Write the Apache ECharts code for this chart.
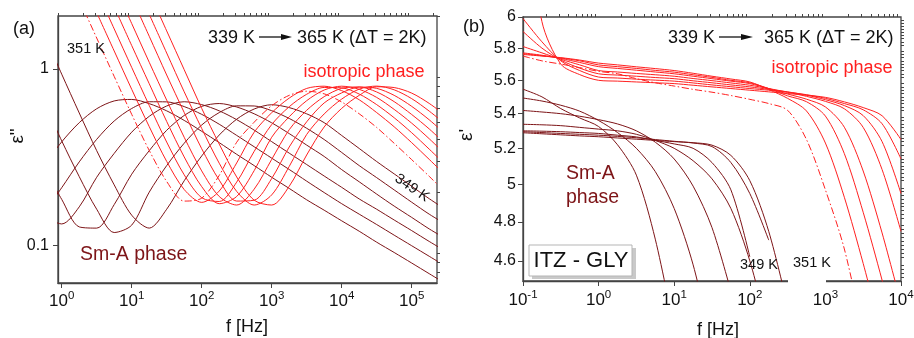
<!DOCTYPE html>
<html>
<head>
<meta charset="utf-8">
<script src="https://cdn.jsdelivr.net/npm/echarts@6/dist/echarts.min.js"></script>
<style>
  html, body { margin: 0; padding: 0; background: #fff; }
  #chart { width: 914px; height: 338px; }
</style>
</head>
<body>
<div id="chart"></div>
<script>
// ---------- panel (a): dielectric loss ε'' vs frequency ----------
const freqA = [0.562, 1, 1.78, 3.16, 5.62, 10, 17.8, 31.6, 56.2, 100, 178, 316, 562, 1000,
  1780, 3160, 5620, 10000, 17800, 31600, 56200, 100000, 178000, 316000];

// Sm-A phase, 339 K ... 349 K
const lossSmA339 = [0.285, 0.386, 0.496, 0.595, 0.659, 0.672, 0.636, 0.579, 0.511, 0.443, 0.382, 0.328, 0.283, 0.243, 0.210, 0.181, 0.158, 0.1375, 0.120, 0.104, 0.0909, 0.0792, 0.0689, 0.060];
const lossSmA341 = [0.154, 0.212, 0.297, 0.399, 0.507, 0.597, 0.652, 0.651, 0.612, 0.553, 0.486, 0.420, 0.362, 0.312, 0.269, 0.231, 0.199, 0.172, 0.150, 0.131, 0.114, 0.0993, 0.0865, 0.0753];
const lossSmA343 = [0.145, 0.132, 0.165, 0.243, 0.332, 0.438, 0.539, 0.617, 0.652, 0.628, 0.579, 0.516, 0.450, 0.387, 0.333, 0.287, 0.247, 0.213, 0.183, 0.160, 0.139, 0.121, 0.105, 0.0917];
const lossSmA345 = [0.275, 0.182, 0.127, 0.125, 0.170, 0.253, 0.344, 0.449, 0.545, 0.614, 0.637, 0.609, 0.557, 0.495, 0.430, 0.370, 0.319, 0.2685, 0.229, 0.195, 0.1667, 0.1438, 0.1237, 0.108];
const lossSmA347 = [0.644, 0.391, 0.245, 0.160, 0.118, 0.130, 0.200, 0.283, 0.379, 0.481, 0.566, 0.618, 0.617, 0.580, 0.524, 0.461, 0.398, 0.336, 0.283, 0.2418, 0.206, 0.1754, 0.150, 0.1306];
const lossSmA349 = [1.57, 0.935, 0.563, 0.344, 0.220, 0.148, 0.125, 0.160, 0.232, 0.321, 0.422, 0.519, 0.593, 0.627, 0.604, 0.557, 0.496, 0.4195, 0.354, 0.2985, 0.254, 0.216, 0.1836, 0.158];

// isotropic phase, 351 K (dash-dot) ... 365 K
const lossIso351 = [null, null, 2.48, 1.50, 0.908, 0.553, 0.345, 0.230, 0.178, 0.185, 0.249, 0.384, 0.499, 0.619, 0.709, 0.748, 0.723, 0.650, 0.557, 0.466, 0.379, 0.306, 0.246, 0.196];
const lossIso353 = [null, null, null, 2.09, 1.266, 0.767, 0.471, 0.299, 0.207, 0.175, 0.203, 0.293, 0.438, 0.565, 0.684, 0.776, 0.799, 0.754, 0.669, 0.566, 0.470, 0.382, 0.307, 0.246];
const lossIso355 = [null, null, null, 2.8, 1.69, 1.021, 0.621, 0.385, 0.251, 0.186, 0.177, 0.228, 0.341, 0.484, 0.611, 0.719, 0.786, 0.782, 0.721, 0.628, 0.529, 0.435, 0.351, 0.282];
const lossIso357 = [null, null, null, null, 2.255, 1.359, 0.825, 0.504, 0.317, 0.215, 0.172, 0.189, 0.265, 0.410, 0.536, 0.661, 0.760, 0.799, 0.767, 0.690, 0.590, 0.493, 0.402, 0.323];
const lossIso359 = [null, null, null, null, 3.0, 1.812, 1.092, 0.666, 0.410, 0.264, 0.189, 0.169, 0.208, 0.307, 0.4525, 0.583, 0.697, 0.777, 0.791, 0.741, 0.653, 0.552, 0.457, 0.370];
const lossIso361 = [null, null, null, null, null, 2.546, 1.534, 0.925, 0.567, 0.353, 0.234, 0.178, 0.180, 0.239, 0.361, 0.5015, 0.642, 0.732, 0.790, 0.777, 0.709, 0.614, 0.515, 0.4217];
const lossIso363 = [null, null, null, null, null, null, 2.045, 1.233, 0.743, 0.460, 0.292, 0.202, 0.169, 0.193, 0.280, 0.425, 0.556, 0.675, 0.769, 0.800, 0.762, 0.679, 0.577, 0.480];
const lossIso365 = [null, null, null, null, null, null, 2.73, 1.646, 0.992, 0.598, 0.375, 0.244, 0.180, 0.169, 0.216, 0.325, 0.469, 0.598, 0.709, 0.793, 0.785, 0.730, 0.638, 0.539];

// ---------- panel (b): permittivity ε' vs frequency ----------
const freqB = [0.1, 0.178, 0.316, 0.562, 1, 1.78, 3.16, 5.62, 10, 17.8, 31.6, 56.2, 100, 178,
  316, 562, 1000, 1780, 3160, 5620, 10000];

const permSmA1 = [5.546, 5.50, 5.43, 5.375, 5.325, 5.22, 5.05, 4.71, 4.27];
const permSmA2 = [5.493, 5.475, 5.45, 5.415, 5.36, 5.29, 5.20, 5.07, 4.87, 4.58, 4.2];
const permSmA3 = [5.419, 5.41, 5.40, 5.385, 5.365, 5.34, 5.30, 5.235, 5.14, 4.99, 4.77, 4.45];
const permSmA4 = [5.338, 5.335, 5.33, 5.32, 5.31, 5.30, 5.28, 5.245, 5.2, 5.13, 5.03, 4.87, 4.6, 4.25];
const permSmA5 = [5.30, 5.298, 5.295, 5.29, 5.285, 5.275, 5.265, 5.245, 5.225, 5.20, 5.12, 4.97, 4.62];
const permSmA6 = [5.295, 5.29, 5.285, 5.28, 5.275, 5.268, 5.26, 5.25, 5.24, 5.23, 5.21, 5.12, 4.95, 4.705];
const permSmA7 = [5.289, 5.283, 5.277, 5.271, 5.266, 5.259, 5.252, 5.245, 5.238, 5.232, 5.218, 5.16, 5.02, 4.75, 4.38];

const permIsoDash = [5.75, 5.72, 5.70, 5.678, 5.655, 5.64, 5.61, 5.585, 5.565, 5.545, 5.528, 5.508, 5.485, 5.46, 5.42, 5.25, 4.97, 4.66, 4.25];
const permIso1 = [5.76, 5.75, 5.74, 5.725, 5.706, 5.695, 5.683, 5.672, 5.66, 5.643, 5.625, 5.608, 5.59, 5.544, 5.491, 5.416, 5.23, 4.93, 4.587, 4.24];
const permIso2 = [5.765, 5.752, 5.738, 5.72, 5.695, 5.684, 5.673, 5.661, 5.65, 5.634, 5.618, 5.6, 5.585, 5.55, 5.506, 5.471, 5.386, 5.17, 4.85, 4.504, 4.16];
const permIso3 = [5.77, 5.755, 5.735, 5.71, 5.684, 5.673, 5.662, 5.651, 5.64, 5.625, 5.61, 5.595, 5.58, 5.55, 5.517, 5.486, 5.44, 5.321, 5.073, 4.742, 4.39];
const permIso4 = [5.81, 5.77, 5.73, 5.695, 5.66, 5.651, 5.642, 5.634, 5.625, 5.611, 5.598, 5.584, 5.57, 5.55, 5.528, 5.503, 5.473, 5.429, 5.32, 5.081, 4.75];
const permIso5 = [5.906, 5.80, 5.725, 5.675, 5.64, 5.632, 5.625, 5.617, 5.61, 5.597, 5.585, 5.572, 5.56, 5.545, 5.53, 5.51, 5.483, 5.448, 5.389, 5.238, 4.95];
const permIso6 = [5.99, 5.84, 5.72, 5.66, 5.62, 5.614, 5.607, 5.601, 5.595, 5.584, 5.572, 5.561, 5.55, 5.54, 5.528, 5.513, 5.491, 5.46, 5.423, 5.341, 5.14];
const permIso7 = [6.9, 5.97, 5.70, 5.635, 5.60, 5.595, 5.59, 5.585, 5.58, 5.57, 5.56, 5.55, 5.54, 5.53, 5.52, 5.51, 5.497, 5.47, 5.436, 5.388, 5.25];

// ---------- tick labels ----------
const ticksFreqA = [1, 10, 100, 1000, 10000, 100000];
const ticksLossA = [0.1, 1];
const ticksFreqB = [0.1, 1, 10, 100, 1000, 10000];
const ticksPermB = [4.6, 4.8, 5, 5.2, 5.4, 5.6, 5.8, 6];

// ---------- styling ----------
const FONT = '"Liberation Sans", Arial, sans-serif';
const DARK = '#7d1417';
const RED = '#ff2020';
const INK = '#111';
const AXIS = '#444';
const DASHDOT = [7, 2.5, 1.5, 2.5];

function decadeMinors(fromExp, toExp) {
  const out = [];
  for (let e = fromExp; e <= toExp; e++) {
    for (let m = 2; m <= 9; m++) out.push(+(m * Math.pow(10, e)).toPrecision(3));
  }
  return out;
}
function stepMinors(a, b, step, skip) {
  const out = [];
  for (let v = a; v <= b + 1e-9; v += step) {
    const r = +v.toFixed(3);
    if (!skip.some(s => Math.abs(s - r) < 1e-6)) out.push(r);
  }
  return out;
}

function curve(name, xs, ys, color, xi, yi, dashed) {
  return {
    name, type: 'line', xAxisIndex: xi, yAxisIndex: yi,
    data: xs.map((x, i) => [x, ys[i]]).filter(p => p[1] != null),
    showSymbol: false, symbol: 'none', smooth: 0.3,
    lineStyle: { color, width: 1, type: dashed ? DASHDOT : 'solid' },
    silent: true, animation: false, z: color === RED ? 3 : 2
  };
}

const expLabel = (ticks, margin) => ({
  customValues: ticks, margin,
  formatter: v => '{b|10}{s|' + Math.round(Math.log10(v)) + '}',
  rich: {
    b: { fontFamily: FONT, fontSize: 17, color: INK, lineHeight: 22 },
    s: { fontFamily: FONT, fontSize: 11.5, color: INK, lineHeight: 12, verticalAlign: 'top' }
  }
});
const plainLabel = (ticks, margin) => ({
  customValues: ticks, margin, fontFamily: FONT, fontSize: 16, color: INK,
  formatter: v => String(+(+v).toPrecision(3))
});

function axisPair(grid, min, max, major, minor, label) {
  const base = { gridIndex: grid, type: 'log', min, max, splitLine: { show: false } };
  return [
    Object.assign({}, base, {
      axisLine: { show: true, lineStyle: { color: AXIS, width: 1.3 } },
      axisTick: { show: true, customValues: major, length: 5, lineStyle: { color: AXIS, width: 1 } },
      axisLabel: label
    }),
    Object.assign({}, base, {
      axisLine: { show: false },
      axisTick: { show: true, customValues: minor, length: 3, lineStyle: { color: AXIS, width: 1 } },
      axisLabel: { show: false }
    })
  ];
}

const xAxes = [
  ...axisPair(0, 0.885, 230000, ticksFreqA, decadeMinors(-1, 5), expLabel(ticksFreqA, 7)),
  ...axisPair(1, 0.1, 10000, ticksFreqB, decadeMinors(-1, 3), expLabel(ticksFreqB, 8))
];
const yAxes = [
  ...axisPair(0, 0.061, 2, ticksLossA, [0.07, 0.08, 0.09, 0.2, 0.3, 0.4, 0.5, 0.6, 0.7, 0.8, 0.9, 2], plainLabel(ticksLossA, 9)),
  ...axisPair(1, 4.5, 6, ticksPermB, stepMinors(4.52, 5.98, 0.02, ticksPermB), plainLabel(ticksPermB, 7))
];

const series = [
  curve('339 K', freqA, lossSmA339, DARK, 0, 0),
  curve('341 K', freqA, lossSmA341, DARK, 0, 0),
  curve('343 K', freqA, lossSmA343, DARK, 0, 0),
  curve('345 K', freqA, lossSmA345, DARK, 0, 0),
  curve('347 K', freqA, lossSmA347, DARK, 0, 0),
  curve('349 K', freqA, lossSmA349, DARK, 0, 0),
  curve('351 K', freqA, lossIso351, RED, 0, 0, true),
  curve('353 K', freqA, lossIso353, RED, 0, 0),
  curve('355 K', freqA, lossIso355, RED, 0, 0),
  curve('357 K', freqA, lossIso357, RED, 0, 0),
  curve('359 K', freqA, lossIso359, RED, 0, 0),
  curve('361 K', freqA, lossIso361, RED, 0, 0),
  curve('363 K', freqA, lossIso363, RED, 0, 0),
  curve('365 K', freqA, lossIso365, RED, 0, 0),

  curve('b-SmA1', freqB, permSmA1, DARK, 2, 2),
  curve('b-SmA2', freqB, permSmA2, DARK, 2, 2),
  curve('b-SmA3', freqB, permSmA3, DARK, 2, 2),
  curve('b-SmA4', freqB, permSmA4, DARK, 2, 2),
  curve('b-SmA5', freqB, permSmA5, DARK, 2, 2),
  curve('b-SmA6', freqB, permSmA6, DARK, 2, 2),
  curve('b-SmA7', freqB, permSmA7, DARK, 2, 2),
  curve('b-IsoDash', freqB, permIsoDash, RED, 2, 2, true),
  curve('b-Iso1', freqB, permIso1, RED, 2, 2),
  curve('b-Iso2', freqB, permIso2, RED, 2, 2),
  curve('b-Iso3', freqB, permIso3, RED, 2, 2),
  curve('b-Iso4', freqB, permIso4, RED, 2, 2),
  curve('b-Iso5', freqB, permIso5, RED, 2, 2),
  curve('b-Iso6', freqB, permIso6, RED, 2, 2),
  curve('b-Iso7', freqB, permIso7, RED, 2, 2)
];

// ---------- annotations ----------
function txt(text, x, y, size, color, align, extra) {
  return Object.assign({
    type: 'text', x, y, z: 100,
    style: { text, font: size + 'px ' + FONT, fill: color, align: align || 'left', verticalAlign: 'middle' }
  }, extra || {});
}
function arrow(x1, y, len, head) {
  return [
    { type: 'line', z: 100, shape: { x1, y1: y, x2: x1 + len, y2: y }, style: { stroke: INK, lineWidth: 1.3 } },
    { type: 'polygon', z: 100, shape: { points: [[x1 + len - 1, y - 3], [x1 + len + head, y], [x1 + len - 1, y + 3]] }, style: { fill: INK } }
  ];
}

const graphics = [
  // panel (a)
  txt('(a)', 24, 29, 18, INK, 'center'),
  txt('351 K', 67, 49, 14.5, INK),
  txt('339 K', 208, 38, 18, INK),
  ...arrow(259, 37, 23, 10),
  txt('365 K (ΔT = 2K)', 297, 38, 18, INK),
  txt('isotropic phase', 364, 72, 18, RED, 'center'),
  txt('Sm-A phase', 80, 255, 19.5, DARK),
  txt('349 K', 412, 188, 14.5, INK, 'center', { rotation: -0.6 }),
  txt('ε"', 18, 136, 19, INK, 'center', { rotation: Math.PI / 2 }),
  txt('f [Hz]', 247, 327, 18, INK, 'center'),
  // panel (b)
  { type: 'rect', z: 50, shape: { x: 788, y: 277, width: 38, height: 10 }, style: { fill: '#fff' } },
  txt('(b)', 474, 27, 18, INK, 'center'),
  txt('339 K', 668, 38, 18, INK),
  ...arrow(719, 37, 23, 11),
  txt('365 K (ΔT = 2K)', 764, 38, 18, INK),
  txt('isotropic phase', 832, 68, 18, RED, 'center'),
  txt('Sm-A', 566, 174, 19.5, DARK),
  txt('phase', 566, 198, 19.5, DARK),
  { type: 'rect', z: 90, shape: { x: 532, y: 248, width: 104, height: 31 }, style: { fill: '#c9c9c9' } },
  { type: 'rect', z: 91, shape: { x: 529, y: 245, width: 103, height: 31 }, style: { fill: '#fff', stroke: '#b5b5b5', lineWidth: 1 } },
  txt('ITZ - GLY', 581, 261, 22, INK, 'center'),
  txt('349 K', 759, 265, 14.5, INK, 'center'),
  txt('351 K', 812, 263, 14.5, INK, 'center'),
  txt("ε'", 467, 135, 19, INK, 'center', { rotation: Math.PI / 2 }),
  txt('f [Hz]', 718, 330, 18, INK, 'center')
];

const chart = echarts.init(document.getElementById('chart'), null, { renderer: 'canvas' });
chart.setOption({
  backgroundColor: '#fff',
  animation: false,
  grid: [
    { left: 58, top: 16, width: 379, height: 267, show: true, borderColor: AXIS, borderWidth: 1.3, backgroundColor: 'transparent', outerBoundsMode: 'none' },
    { left: 523, top: 17, width: 378, height: 264, show: true, borderColor: AXIS, borderWidth: 1.3, backgroundColor: 'transparent', outerBoundsMode: 'none' }
  ],
  xAxis: xAxes,
  yAxis: yAxes,
  series,
  graphic: { elements: graphics }
});
</script>
</body>
</html>
